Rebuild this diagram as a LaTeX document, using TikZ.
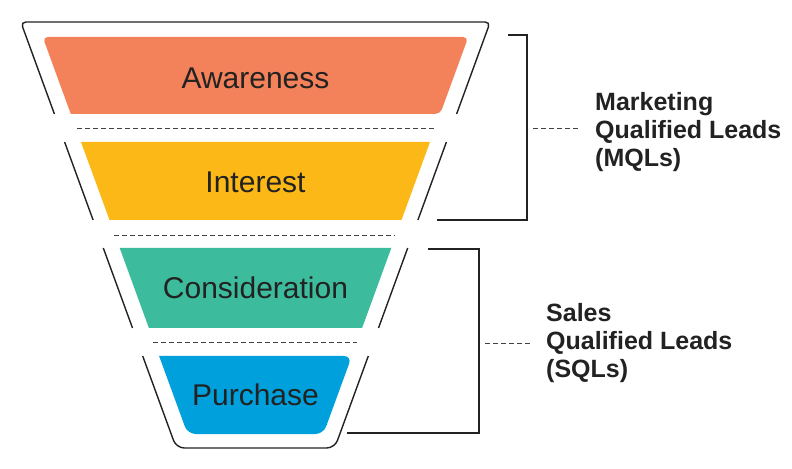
\documentclass[tikz,border=0pt]{standalone}
\usepackage{fontspec}
\setmainfont{Liberation Sans}
\definecolor{cAware}{HTML}{F3825A}
\definecolor{cInter}{HTML}{FBB817}
\definecolor{cCons}{HTML}{3CBC9C}
\definecolor{cPurch}{HTML}{00A0DC}
\definecolor{ink}{HTML}{222222}
\tikzset{
  outline/.style={draw=ink, line width=1.4bp},
  sepline/.style={draw=ink!85, line width=0.9bp, dash pattern=on 5bp off 3bp},
  bracket/.style={draw=ink, line width=1.4bp},
  stage/.style={font=\fontsize{30bp}{36bp}\selectfont, text=ink, inner sep=0pt, anchor=base},
  lead/.style={font=\fontsize{25bp}{28bp}\selectfont\bfseries, text=ink, align=left, inner sep=0pt, anchor=north west},
}
\begin{document}
\begin{tikzpicture}[x=1bp,y=-1bp]
\useasboundingbox (0,0) rectangle (792,469);
% coloured bands
\fill[cAware, rounded corners=5bp] (70.8,114) -- (42.7,37) -- (468.3,37) -- (440.2,114) [sharp corners] -- cycle;
\fill[cInter] (81,142) -- (430,142) -- (401.5,220) -- (109.5,220) -- cycle;
\fill[cCons] (119.7,248) -- (391.3,248) -- (362.1,328) -- (148.9,328) -- cycle;
\fill[cPurch, rounded corners=8bp] (159.1,356) -- (187.6,434) -- (323.4,434) -- (351.9,356) [sharp corners] -- cycle;
% funnel outline
\draw[outline, rounded corners=5bp] (54.4,114) -- (20.8,22) -- (490.2,22) -- (456.6,114);
\draw[outline] (64.6,142) -- (93.1,220);
\draw[outline] (446.4,142) -- (417.9,220);
\draw[outline] (103.3,248) -- (132.5,328);
\draw[outline] (407.7,248) -- (378.5,328);
\draw[outline, rounded corners=8bp] (142.7,356) -- (176.3,448) -- (334.7,448) -- (368.3,356);
% separators
\draw[sepline] (77,128) -- (434,128);
\draw[sepline] (114,235) -- (395,235);
\draw[sepline] (153,342) -- (357,342);
% stage labels
\node[stage] (aware) at (255.5,88.3) {Awareness};
\node[stage] (inter) at (255.5,193) {Interest};
\node[stage] (cons) at (255.5,299) {Consideration};
\node[stage] (purch) at (255.5,405) {Purchase};
% lead labels
\node[lead] (mql) at (595,92) {Marketing\\Qualified Leads\\(MQLs)};
\node[lead] (sql) at (546,303) {Sales\\Qualified Leads\\(SQLs)};
% brackets
\coordinate (mqlA) at (508,35);
\coordinate (mqlB) at (527,35);
\coordinate (mqlC) at (527,220);
\coordinate (mqlD) at (437,220);
\coordinate (mqlM) at (533,128);
\coordinate (mqlT) at (580,128);
\draw[bracket] (mqlA) -- (mqlB) -- (mqlC) -- (mqlD);
\draw[sepline] (mqlM) -- (mqlT);
\coordinate (sqlA) at (428,249);
\coordinate (sqlB) at (479,249);
\coordinate (sqlC) at (479,433);
\coordinate (sqlD) at (347,433);
\coordinate (sqlM) at (485,343);
\coordinate (sqlT) at (532,343);
\draw[bracket] (sqlA) -- (sqlB) -- (sqlC) -- (sqlD);
\draw[sepline] (sqlM) -- (sqlT);
\end{tikzpicture}
\end{document}
